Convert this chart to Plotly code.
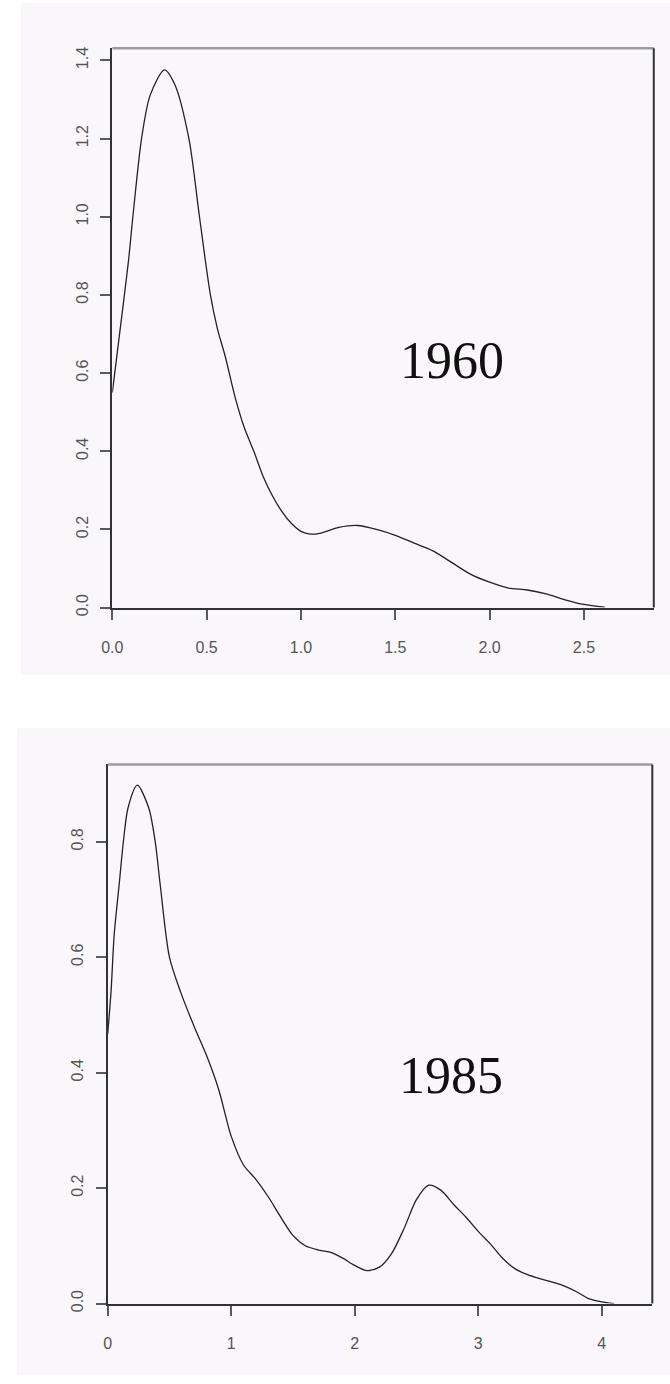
import plotly.graph_objects as go

W, H = 670, 1384

# ---- data: 1960 density ----
x1960 = [0.0, 0.042, 0.085, 0.109, 0.155, 0.20, 0.276, 0.33, 0.406, 0.462, 0.52, 0.557,
         0.60, 0.65, 0.70, 0.75, 0.80, 0.85, 0.90, 0.95, 1.00, 1.05, 1.10, 1.20, 1.30,
         1.40, 1.50, 1.60, 1.70, 1.80, 1.90, 2.00, 2.10, 2.20, 2.30, 2.40, 2.50, 2.61]
y1960 = [0.55, 0.714, 0.884, 1.0, 1.2, 1.31, 1.376, 1.34, 1.2, 1.0, 0.8, 0.714,
         0.64, 0.54, 0.46, 0.40, 0.335, 0.285, 0.245, 0.215, 0.195, 0.188, 0.19, 0.205, 0.21,
         0.20, 0.185, 0.165, 0.145, 0.115, 0.085, 0.065, 0.05, 0.045, 0.035, 0.02, 0.008, 0.001]

# ---- data: 1985 density ----
x1985 = [0.0, 0.027, 0.053, 0.093, 0.127, 0.165, 0.24, 0.332, 0.385, 0.425, 0.50, 0.59,
         0.70, 0.80, 0.90, 1.00, 1.10, 1.20, 1.30, 1.40, 1.50, 1.60, 1.70, 1.80, 1.90,
         2.00, 2.10, 2.20, 2.30, 2.40, 2.50, 2.60, 2.70, 2.80, 2.90, 3.00, 3.10, 3.20,
         3.30, 3.40, 3.50, 3.60, 3.70, 3.80, 3.90, 4.00, 4.10]
y1985 = [0.467, 0.54, 0.64, 0.726, 0.80, 0.859, 0.898, 0.859, 0.80, 0.726, 0.60, 0.54,
         0.48, 0.43, 0.37, 0.29, 0.24, 0.215, 0.185, 0.15, 0.118, 0.10, 0.093, 0.089, 0.079,
         0.066, 0.057, 0.063, 0.087, 0.13, 0.18, 0.205, 0.196, 0.172, 0.15, 0.125, 0.103, 0.078,
         0.06, 0.05, 0.043, 0.037, 0.03, 0.02, 0.008, 0.003, 0.0]

ticks1960_x = [0.0, 0.5, 1.0, 1.5, 2.0, 2.5]
ticklab1960_x = ["0.0", "0.5", "1.0", "1.5", "2.0", "2.5"]
ticks1960_y = [0.0, 0.2, 0.4, 0.6, 0.8, 1.0, 1.2, 1.4]
ticklab1960_y = ["0.0", "0.2", "0.4", "0.6", "0.8", "1.0", "1.2", "1.4"]
ticks1985_x = [0, 1, 2, 3, 4]
ticklab1985_x = ["0", "1", "2", "3", "4"]
ticks1985_y = [0.0, 0.2, 0.4, 0.6, 0.8]
ticklab1985_y = ["0.0", "0.2", "0.4", "0.6", "0.8"]

labels = ["1960", "1985"]


def px_x(p):
    return p / W


def px_y(p):
    return 1 - p / H


BG = "#f9f7f9"
AX = "#2f3333"
TICK = "#5a5a5a"
LBL = "#555555"
tickfont = dict(family="Liberation Sans, Arial, sans-serif", size=16, color=LBL)

fig = go.Figure()
fig.add_trace(go.Scatter(x=x1960, y=y1960, mode="lines", xaxis="x", yaxis="y",
                         line=dict(color="#222222", width=1.3, shape="spline", smoothing=0.8),
                         showlegend=False, hoverinfo="skip"))
fig.add_trace(go.Scatter(x=x1985, y=y1985, mode="lines", xaxis="x2", yaxis="y2",
                         line=dict(color="#222222", width=1.3, shape="spline", smoothing=0.8),
                         showlegend=False, hoverinfo="skip"))


def xax(dom, rng, tv, tt, anchor):
    return dict(domain=dom, range=rng, anchor=anchor, tickvals=tv, ticktext=tt,
                showgrid=False, zeroline=False, showline=True, linecolor=AX, linewidth=2,
                ticks="outside", ticklen=10, tickwidth=2, tickcolor=TICK,
                tickfont=tickfont, ticklabelstandoff=14, fixedrange=True)


def yax(dom, rng, tv, tt, anchor):
    return dict(domain=dom, range=rng, anchor=anchor, tickvals=tv, ticktext=tt,
                showgrid=False, zeroline=False, showline=True, linecolor=AX, linewidth=2,
                ticks="outside", ticklen=10, tickwidth=2, tickcolor=TICK,
                tickfont=tickfont, tickangle=-90, ticklabelstandoff=6, fixedrange=True)


top_x = [px_x(103), px_x(653.5)]
top_y = [px_y(611), px_y(47.7)]
bot_x = [px_x(98.3), px_x(652)]
bot_y = [px_y(1312), px_y(769)]

shapes = [
    dict(type="rect", xref="paper", yref="paper", x0=px_x(10), x1=1, y0=px_y(679), y1=px_y(2),
         fillcolor=BG, line=dict(width=0), layer="below"),
    dict(type="rect", xref="paper", yref="paper", x0=px_x(6), x1=1, y0=0, y1=px_y(732),
         fillcolor=BG, line=dict(width=0), layer="below"),
    # box: grey top, dark right
    dict(type="line", xref="paper", yref="paper", x0=top_x[0], x1=top_x[1], y0=top_y[1], y1=top_y[1],
         line=dict(color="#9c9c9c", width=2.5)),
    dict(type="line", xref="paper", yref="paper", x0=top_x[1], x1=top_x[1], y0=top_y[0], y1=top_y[1],
         line=dict(color=AX, width=2)),
    dict(type="line", xref="paper", yref="paper", x0=bot_x[0], x1=bot_x[1], y0=bot_y[1], y1=bot_y[1],
         line=dict(color="#9c9c9c", width=2.5)),
    dict(type="line", xref="paper", yref="paper", x0=bot_x[1], x1=bot_x[1], y0=bot_y[0], y1=bot_y[1],
         line=dict(color=AX, width=2)),
]

annotations = [
    dict(x=1.80, y=0.633, xref="x", yref="y", text=labels[0], showarrow=False,
         font=dict(family="Liberation Serif, Times New Roman, serif", size=52, color="#111111")),
    dict(x=2.78, y=0.395, xref="x2", yref="y2", text=labels[1], showarrow=False,
         font=dict(family="Liberation Serif, Times New Roman, serif", size=52, color="#111111")),
]

fig.update_layout(
    width=W, height=H, margin=dict(l=0, r=0, t=0, b=0),
    paper_bgcolor="white", plot_bgcolor="rgba(0,0,0,0)",
    xaxis=xax(top_x, [0, 2.87], ticks1960_x, ticklab1960_x, "y"),
    yaxis=yax(top_y, [0, 1.431], ticks1960_y, ticklab1960_y, "x"),
    xaxis2=xax(bot_x, [0, 4.41], ticks1985_x, ticklab1985_x, "y2"),
    yaxis2=yax(bot_y, [0, 0.934], ticks1985_y, ticklab1985_y, "x2"),
    shapes=shapes, annotations=annotations, showlegend=False,
)

fig.write_html(
    "out.html",
    config={"displayModeBar": False, "staticPlot": True},
    post_script="document.body.style.margin='0';document.body.style.overflow='hidden';",
)
